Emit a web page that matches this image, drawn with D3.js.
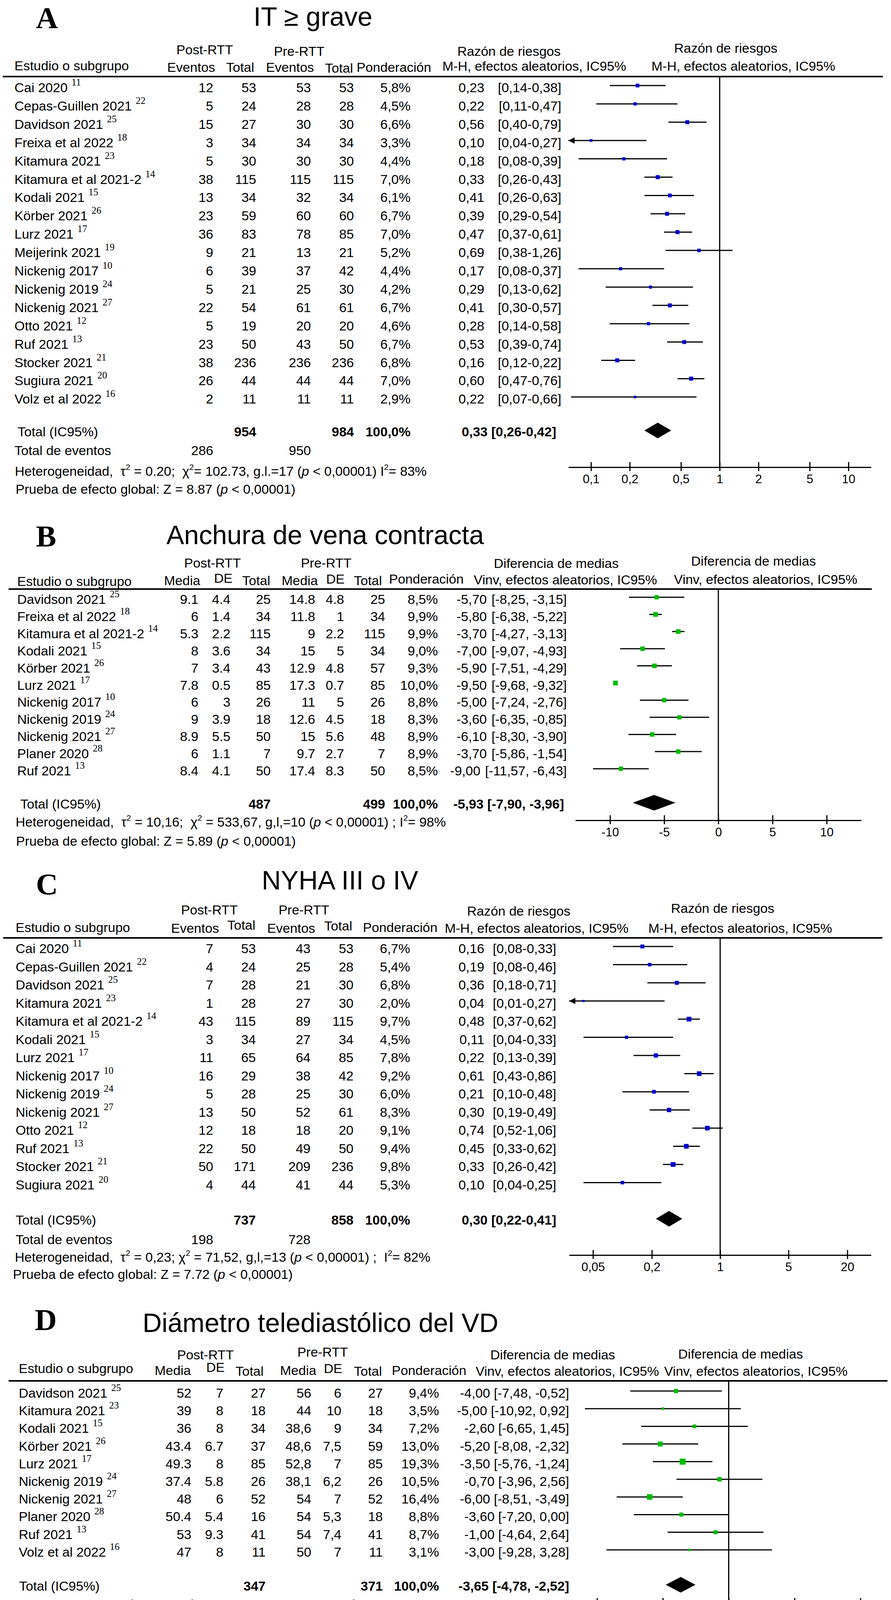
<!DOCTYPE html>
<html>
<head>
<meta charset="utf-8">
<script src="https://cdn.jsdelivr.net/npm/d3@7"></script>
<style>
body{margin:0;background:#fff}
svg{display:block}
svg text{font-family:"Liberation Sans",Arial,sans-serif;fill:#000;white-space:pre}
</style>
</head>
<body>
<svg id="fig" width="2281" height="4183"></svg>
<script>
/*
	Forest plots Post-RTT vs Pre-RTT (A-D)
*/

// A - IT >= grave
var studiesA = ["Cai 2020","Cepas-Guillen 2021","Davidson 2021","Freixa et al 2022","Kitamura 2021","Kitamura et al 2021-2","Kodali 2021","Körber 2021","Lurz 2021","Meijerink 2021","Nickenig 2017","Nickenig 2019","Nickenig 2021","Otto 2021","Ruf 2021","Stocker 2021","Sugiura 2021","Volz et al 2022"];
var refsA = ["11","22","25","18","23","14","15","26","17","19","10","24","27","12","13","21","20","16"];
var postEvA = [12,5,15,3,5,38,13,23,36,9,6,5,22,5,23,38,26,2];
var postTotA = [53,24,27,34,30,115,34,59,83,21,39,21,54,19,50,236,44,11];
var preEvA = [53,28,30,34,30,115,32,60,78,13,37,25,61,20,43,236,44,11];
var preTotA = [53,28,30,34,30,115,34,60,85,21,42,30,61,20,50,236,44,11];
var weightA = [5.8,4.5,6.6,3.3,4.4,7.0,6.1,6.7,7.0,5.2,4.4,4.2,6.7,4.6,6.7,6.8,7.0,2.9];
var rrA = [0.23,0.22,0.56,0.10,0.18,0.33,0.41,0.39,0.47,0.69,0.17,0.29,0.41,0.28,0.53,0.16,0.60,0.22];
var loA = [0.14,0.11,0.40,0.04,0.08,0.26,0.26,0.29,0.37,0.38,0.08,0.13,0.30,0.14,0.39,0.12,0.47,0.07];
var hiA = [0.38,0.47,0.79,0.27,0.39,0.43,0.63,0.54,0.61,1.26,0.37,0.62,0.57,0.58,0.74,0.22,0.76,0.66];
var totalsA = [954,984];
var eventsA = [286,950];
var pooledA = [0.33,0.26,0.42];
var ticksA = [0.1,0.2,0.5,1,2,5,10];
var tickLabelsA = ["0,1","0,2","0,5","1","2","5","10"];

// B - Anchura de vena contracta
var studiesB = ["Davidson 2021","Freixa et al 2022","Kitamura et al 2021-2","Kodali 2021","Körber 2021","Lurz 2021","Nickenig 2017","Nickenig 2019","Nickenig 2021","Planer 2020","Ruf 2021"];
var refsB = ["25","18","14","15","26","17","10","24","27","28","13"];
var postMeanB = [9.1,6,5.3,8,7,7.8,6,9,8.9,6,8.4];
var postSdB = [4.4,1.4,2.2,3.6,3.4,0.5,3,3.9,5.5,1.1,4.1];
var postNB = [25,34,115,34,43,85,26,18,50,7,50];
var preMeanB = [14.8,11.8,9,15,12.9,17.3,11,12.6,15,9.7,17.4];
var preSdB = [4.8,1,2.2,5,4.8,0.7,5,4.5,5.6,2.7,8.3];
var preNB = [25,34,115,34,57,85,26,18,48,7,50];
var weightB = [8.5,9.9,9.9,9.0,9.3,10.0,8.8,8.3,8.9,8.9,8.5];
var mdB = [-5.70,-5.80,-3.70,-7.00,-5.90,-9.50,-5.00,-3.60,-6.10,-3.70,-9.00];
var loB = [-8.25,-6.38,-4.27,-9.07,-7.51,-9.68,-7.24,-6.35,-8.30,-5.86,-11.57];
var hiB = [-3.15,-5.22,-3.13,-4.93,-4.29,-9.32,-2.76,-0.85,-3.90,-1.54,-6.43];
var totalsB = [487,499];
var pooledB = [-5.93,-7.90,-3.96];
var ticksB = [-10,-5,0,5,10];
var tickLabelsB = ["-10","-5","0","5","10"];

// C - NYHA III o IV
var studiesC = ["Cai 2020","Cepas-Guillen 2021","Davidson 2021","Kitamura 2021","Kitamura et al 2021-2","Kodali 2021","Lurz 2021","Nickenig 2017","Nickenig 2019","Nickenig 2021","Otto 2021","Ruf 2021","Stocker 2021","Sugiura 2021"];
var refsC = ["11","22","25","23","14","15","17","10","24","27","12","13","21","20"];
var postEvC = [7,4,7,1,43,3,11,16,5,13,12,22,50,4];
var postTotC = [53,24,28,28,115,34,65,29,28,50,18,50,171,44];
var preEvC = [43,25,21,27,89,27,64,38,25,52,18,49,209,41];
var preTotC = [53,28,30,30,115,34,85,42,30,61,20,50,236,44];
var weightC = [6.7,5.4,6.8,2.0,9.7,4.5,7.8,9.2,6.0,8.3,9.1,9.4,9.8,5.3];
var rrC = [0.16,0.19,0.36,0.04,0.48,0.11,0.22,0.61,0.21,0.30,0.74,0.45,0.33,0.10];
var loC = [0.08,0.08,0.18,0.01,0.37,0.04,0.13,0.43,0.10,0.19,0.52,0.33,0.26,0.04];
var hiC = [0.33,0.46,0.71,0.27,0.62,0.33,0.39,0.86,0.48,0.49,1.06,0.62,0.42,0.25];
var totalsC = [737,858];
var eventsC = [198,728];
var pooledC = [0.30,0.22,0.41];
var ticksC = [0.05,0.2,1,5,20];
var tickLabelsC = ["0,05","0,2","1","5","20"];

// D - Diametro telediastolico del VD
var studiesD = ["Davidson 2021","Kitamura 2021","Kodali 2021","Körber 2021","Lurz 2021","Nickenig 2019","Nickenig 2021","Planer 2020","Ruf 2021","Volz et al 2022"];
var refsD = ["25","23","15","26","17","24","27","28","13","16"];
var postMeanD = [52,39,36,43.4,49.3,37.4,48,50.4,53,47];
var postSdD = [7,8,8,6.7,8,5.8,6,5.4,9.3,8];
var postND = [27,18,34,37,85,26,52,16,41,11];
var preMeanD = [56,44,38.6,48.6,52.8,38.1,54,54,54,50];
var preSdD = [6,10,9,7.5,7,6.2,7,5.3,7.4,7];
var preND = [27,18,34,59,85,26,52,18,41,11];
var weightD = [9.4,3.5,7.2,13.0,19.3,10.5,16.4,8.8,8.7,3.1];
var mdD = [-4.00,-5.00,-2.60,-5.20,-3.50,-0.70,-6.00,-3.60,-1.00,-3.00];
var loD = [-7.48,-10.92,-6.65,-8.08,-5.76,-3.96,-8.51,-7.20,-4.64,-9.28];
var hiD = [-0.52,0.92,1.45,-2.32,-1.24,2.56,-3.49,0.00,2.64,3.28];
var totalsD = [347,371];
var pooledD = [-3.65,-4.78,-2.52];
var ticksD = [-10,-5,0,5,10];
var tickLabelsD = ["-10","-5","0","5","10"];

var svg = d3.select('#fig');
var FS = 34;

function fmt(v, d){ return v.toFixed(d).replace('.', ','); }
function num(v, sep){ return String(v).replace('.', sep || '.'); }

// text with ^2 superscripts and _p_ italics
function richText(g, x, y, str, size){
	var t = g.append('text').attr('x', x).attr('y', y).attr('font-size', size);
	var back = 0;
	str.split(/(\^2|_p_)/).forEach(function(s){
		if (!s) return;
		var ts = t.append('tspan');
		if (s == '^2') {
			ts.attr('font-size', size*0.62).attr('dy', -size*0.45).text('2');
			back = size*0.45;
		} else {
			if (back) { ts.attr('dy', back); back = 0; }
			if (s == '_p_') ts.attr('font-style', 'italic').text('p');
			else ts.text(s);
		}
	});
	return t;
}

function drawPanel(p){
	var g = svg.append('g');
	var n = p.names.length;

	g.append('text').attr('x', p.letter[1]).attr('y', p.letter[2])
		.attr('font-size', 78).attr('font-weight', 'bold')
		.style('font-family', '"Liberation Serif","Times New Roman",serif')
		.text(p.letter[0]);
	g.append('text').attr('x', p.title[1]).attr('y', p.title[2])
		.attr('font-size', 68).text(p.title[0]);

	p.heads.forEach(function(h){
		g.append('text').attr('x', h[1]).attr('y', h[2]).attr('font-size', FS)
			.attr('text-anchor', h[3] || 'start').text(h[0]);
	});

	g.append('line').attr('x1', p.line[0]).attr('x2', p.line[1])
		.attr('y1', p.lineY).attr('y2', p.lineY)
		.attr('stroke', '#000').attr('stroke-width', 4);

	var y = d3.scaleLinear().domain([0, n-1]).range([p.row0, p.row0 + p.rowStep*(n-1)]);
	var x = p.log ? d3.scaleLog() : d3.scaleLinear();
	x.domain(p.domain).range(p.range);

	// study rows
	var rows = g.selectAll('g.row').data(d3.range(n)).join('g').attr('class', 'row');
	rows.append('text').attr('x', p.nameX).attr('y', function(i){ return y(i)+17; })
		.attr('font-size', FS)
		.each(function(i){
			var t = d3.select(this);
			t.append('tspan').text(p.names[i]);
			t.append('tspan').attr('dx', 10).attr('dy', -17).attr('font-size', 25)
				.style('font-family', '"Liberation Serif","Times New Roman",serif')
				.text(p.refs[i]);
		});
	p.cols.forEach(function(c){
		rows.append('text').attr('x', c.x).attr('y', function(i){ return y(i)+17; })
			.attr('font-size', FS).attr('text-anchor', 'end')
			.text(function(i){ return num(c.vals[i], c.sep); });
	});
	rows.append('text').attr('x', p.weightX).attr('y', function(i){ return y(i)+17; })
		.attr('font-size', FS).attr('text-anchor', 'end')
		.text(function(i){ return fmt(p.weights[i], 1) + '%'; });

	function bracket(lo, hi){
		return p.log ? '[' + fmt(lo,2) + '-' + fmt(hi,2) + ']' : '[' + fmt(lo,2) + ', ' + fmt(hi,2) + ']';
	}
	if (p.estX) {
		rows.each(function(i){
			var r = d3.select(this);
			var b = r.append('text').attr('x', p.ciX).attr('y', y(i)+17)
				.attr('font-size', FS).attr('text-anchor', 'end')
				.text(bracket(p.lo[i], p.hi[i]));
			var start = p.ciX - b.node().getComputedTextLength();
			r.append('text').attr('x', Math.min(p.estX, start - 12)).attr('y', y(i)+17)
				.attr('font-size', FS).attr('text-anchor', 'end')
				.text(fmt(p.est[i], 2));
		});
	} else {
		rows.append('text').attr('x', p.ciX).attr('y', function(i){ return y(i)+17; })
			.attr('font-size', FS).attr('text-anchor', 'end')
			.text(function(i){ return fmt(p.est[i], 2) + ' ' + bracket(p.lo[i], p.hi[i]); });
	}

	// null line
	g.append('line').attr('x1', x(p.nullV)).attr('x2', x(p.nullV))
		.attr('y1', p.lineY).attr('y2', p.axisY)
		.attr('stroke', '#000').attr('stroke-width', 3);

	// CI lines, arrows, squares
	var d0 = p.domain[0], d1 = p.domain[1];
	rows.append('line')
		.attr('x1', function(i){ return x(Math.max(p.lo[i], d0)); })
		.attr('x2', function(i){ return x(Math.min(p.hi[i], d1)); })
		.attr('y1', function(i){ return y(i); }).attr('y2', function(i){ return y(i); })
		.attr('stroke', '#000').attr('stroke-width', 3);
	rows.filter(function(i){ return p.lo[i] < d0; }).append('path')
		.attr('d', function(i){ var x0 = x(d0), yy = y(i); return 'M'+x0+','+yy+'L'+(x0+16)+','+(yy-8)+'L'+(x0+16)+','+(yy+8)+'Z'; })
		.attr('fill', '#000');
	rows.append('rect')
		.attr('x', function(i){ return x(p.est[i]) - p.sq*Math.sqrt(p.weights[i])/2; })
		.attr('y', function(i){ return y(i) - p.sq*Math.sqrt(p.weights[i])/2; })
		.attr('width', function(i){ return p.sq*Math.sqrt(p.weights[i]); })
		.attr('height', function(i){ return p.sq*Math.sqrt(p.weights[i]); })
		.attr('fill', p.color);

	// total row
	var ty = p.totalY;
	g.append('text').attr('x', p.totalLabelX).attr('y', ty+15).attr('font-size', FS).text('Total (IC95%)');
	[[p.totals[0], p.cols[p.totCols[0]].x], [p.totals[1], p.cols[p.totCols[1]].x]].forEach(function(t){
		g.append('text').attr('x', t[1]).attr('y', ty+15).attr('font-size', FS)
			.attr('font-weight', 'bold').attr('text-anchor', 'end').text(t[0]);
	});
	g.append('text').attr('x', p.weightX).attr('y', ty+15).attr('font-size', FS)
		.attr('font-weight', 'bold').attr('text-anchor', 'end').text('100,0%');
	g.append('text').attr('x', p.totalCiX).attr('y', ty+15).attr('font-size', FS)
		.attr('font-weight', 'bold').attr('text-anchor', 'end')
		.text(fmt(p.pooled[0], 2) + ' ' + bracket(p.pooled[1], p.pooled[2]));
	g.append('path')
		.attr('d', 'M' + x(p.pooled[1]) + ',' + ty + 'L' + x(p.pooled[0]) + ',' + (ty-20) +
			'L' + x(p.pooled[2]) + ',' + ty + 'L' + x(p.pooled[0]) + ',' + (ty+20) + 'Z')
		.attr('fill', '#000');

	if (p.events) {
		g.append('text').attr('x', p.nameX).attr('y', p.eventsY).attr('font-size', FS).text('Total de eventos');
		g.append('text').attr('x', p.cols[0].x).attr('y', p.eventsY).attr('font-size', FS)
			.attr('text-anchor', 'end').text(p.events[0]);
		g.append('text').attr('x', p.cols[2].x).attr('y', p.eventsY).attr('font-size', FS)
			.attr('text-anchor', 'end').text(p.events[1]);
	}
	richText(g, p.het[1], p.het[2], p.het[0], 34);
	richText(g, p.test[1], p.test[2], p.test[0], 34);

	// axis
	var axis = d3.axisBottom(x).tickValues(p.ticks)
		.tickFormat(function(d, i){ return p.tickLabels[i]; }).tickSizeOuter(0);
	var ax = g.append('g').attr('transform', 'translate(0,' + p.axisY + ')').call(axis);
	ax.select('.domain').attr('stroke', '#000').attr('stroke-width', 3);
	ax.selectAll('.tick line').attr('y1', -13).attr('y2', 10).attr('stroke', '#000').attr('stroke-width', 3);
	ax.selectAll('.tick text').attr('y', 41).attr('dy', null).attr('font-size', 31)
		.style('font-family', '"Liberation Sans",Arial,sans-serif').attr('fill', '#000');
}

function init(){
	drawPanel({
		letter: ['A', 92, 72], title: ['IT ≥ grave', 649, 66],
		heads: [['Post-RTT', 524, 139, 'middle'], ['Pre-RTT', 766, 143, 'middle'],
			['Estudio o subgrupo', 37, 180], ['Eventos', 428, 184], ['Total', 579, 184],
			['Eventos', 681, 184], ['Total', 832, 186], ['Ponderación', 913, 184],
			['Razón de riesgos', 1303, 143, 'middle'], ['M-H, efectos aleatorios, IC95%', 1603, 181, 'end'],
			['Razón de riesgos', 1858, 135, 'middle'], ['M-H, efectos aleatorios, IC95%', 1903, 181, 'middle']],
		line: [7, 2260], lineY: 196,
		names: studiesA, refs: refsA, nameX: 37, row0: 219, rowStep: 46.9,
		cols: [{vals: postEvA, x: 546}, {vals: postTotA, x: 656}, {vals: preEvA, x: 796}, {vals: preTotA, x: 906}],
		totCols: [1, 3], weights: weightA, weightX: 1051,
		est: rrA, lo: loA, hi: hiA, estX: 1240, ciX: 1437,
		log: true, domain: [0.0667, 15], range: [1455, 2230], nullV: 1,
		sq: 3.9, color: '#0000cc',
		totalY: 1102, totalLabelX: 45, totals: totalsA, pooled: pooledA, totalCiX: 1424,
		events: eventsA, eventsY: 1165,
		het: ['Heterogeneidad,  τ^2 = 0.20;  χ^2= 102.73, g.l.=17 (_p_ < 0,00001) I^2= 83%', 38, 1218],
		test: ['Prueba de efecto global: Z = 8.87 (_p_ < 0,00001)', 40, 1264],
		axisY: 1196, ticks: ticksA, tickLabels: tickLabelsA
	});

	drawPanel({
		letter: ['B', 92, 1399], title: ['Anchura de vena contracta', 426, 1393],
		heads: [['Post-RTT', 544, 1453, 'middle'], ['Pre-RTT', 835, 1453, 'middle'],
			['Estudio o subgrupo', 44, 1500], ['Media', 420, 1498], ['DE', 548, 1492], ['Total', 620, 1498],
			['Media', 721, 1498], ['DE', 835, 1494], ['Total', 906, 1498], ['Ponderación', 996, 1494],
			['Diferencia de medias', 1424, 1454, 'middle'], ['Vinv, efectos aleatorios, IC95%', 1682, 1496, 'end'],
			['Diferencia de medias', 1929, 1448, 'middle'], ['Vinv, efectos aleatorios, IC95%', 1960, 1495, 'middle']],
		line: [22, 2232], lineY: 1508,
		names: studiesB, refs: refsB, nameX: 44, row0: 1529, rowStep: 43.9,
		cols: [{vals: postMeanB, x: 508}, {vals: postSdB, x: 590}, {vals: postNB, x: 693},
			{vals: preMeanB, x: 807}, {vals: preSdB, x: 881}, {vals: preNB, x: 986}],
		totCols: [2, 5], weights: weightB, weightX: 1121,
		est: mdB, lo: loB, hi: hiB, estX: 1249, ciX: 1451,
		log: false, domain: [-13.2, 13.2], range: [1473, 2205], nullV: 0,
		sq: 3.8, color: '#00bb00',
		totalY: 2055, totalLabelX: 52, totals: totalsB, pooled: pooledB, totalCiX: 1444,
		het: ['Heterogeneidad,  τ^2 = 10,16;  χ^2 = 533,67, g,l,=10 (_p_ < 0,00001) ; I^2= 98%', 40, 2116],
		test: ['Prueba de efecto global: Z = 5.89 (_p_ < 0,00001)', 41, 2165],
		axisY: 2100, ticks: ticksB, tickLabels: tickLabelsB
	});

	drawPanel({
		letter: ['C', 92, 2290], title: ['NYHA III o IV', 670, 2277],
		heads: [['Post-RTT', 536, 2341, 'middle'], ['Pre-RTT', 778, 2341, 'middle'],
			['Estudio o subgrupo', 40, 2386], ['Eventos', 438, 2388], ['Total', 582, 2380],
			['Eventos', 684, 2388], ['Total', 830, 2382], ['Ponderación', 929, 2386],
			['Razón de riesgos', 1328, 2344, 'middle'], ['M-H, efectos aleatorios, IC95%', 1609, 2388, 'end'],
			['Razón de riesgos', 1850, 2337, 'middle'], ['M-H, efectos aleatorios, IC95%', 1895, 2388, 'middle']],
		line: [8, 2259], lineY: 2401,
		names: studiesC, refs: refsC, nameX: 40, row0: 2423, rowStep: 46.5,
		cols: [{vals: postEvC, x: 546}, {vals: postTotC, x: 655}, {vals: preEvC, x: 795}, {vals: preTotC, x: 905}],
		totCols: [1, 3], weights: weightC, weightX: 1050,
		est: rrC, lo: loC, hi: hiC, estX: 1240, ciX: 1424,
		log: true, domain: [0.0285, 35], range: [1457, 2230], nullV: 1,
		sq: 3.9, color: '#0000cc',
		totalY: 3120, totalLabelX: 40, totals: totalsC, pooled: pooledC, totalCiX: 1424,
		events: eventsC, eventsY: 3185,
		het: ['Heterogeneidad,  τ^2 = 0,23; χ^2 = 71,52, g,l,=13 (_p_ < 0,00001) ;  I^2= 82%', 38, 3230],
		test: ['Prueba de efecto global: Z = 7.72 (_p_ < 0,00001)', 33, 3274],
		axisY: 3213, ticks: ticksC, tickLabels: tickLabelsC
	});

	drawPanel({
		letter: ['D', 89, 3405], title: ['Diámetro telediastólico del VD', 365, 3410],
		heads: [['Post-RTT', 526, 3480, 'middle'], ['Pre-RTT', 826, 3473, 'middle'],
			['Estudio o subgrupo', 48, 3515], ['Media', 396, 3520], ['DE', 528, 3512], ['Total', 603, 3522],
			['Media', 717, 3520], ['DE', 829, 3515], ['Total', 906, 3522], ['Ponderación', 1003, 3520],
			['Diferencia de medias', 1415, 3480, 'middle'], ['Vinv, efectos aleatorios, IC95%', 1687, 3522, 'end'],
			['Diferencia de medias', 1896, 3478, 'middle'], ['Vinv, efectos aleatorios, IC95%', 1935, 3522, 'middle']],
		line: [22, 2272], lineY: 3535,
		names: studiesD, refs: refsD, nameX: 48, row0: 3561, rowStep: 45.2,
		cols: [{vals: postMeanD, x: 490}, {vals: postSdD, x: 572}, {vals: postND, x: 680},
			{vals: preMeanD, x: 797, sep: ','}, {vals: preSdD, x: 874, sep: ','}, {vals: preND, x: 980}],
		totCols: [2, 5], weights: weightD, weightX: 1124,
		est: mdD, lo: loD, hi: hiD, ciX: 1457,
		log: false, domain: [-11.2, 11.2], range: [1488, 2243], nullV: 0,
		sq: 3.5, color: '#00bb00',
		totalY: 4057, totalLabelX: 49, totals: totalsD, pooled: pooledD, totalCiX: 1457,
		het: ['Heterogeneidad,  τ^2 = 0,40; χ^2 = 10,22, g,l,=9 (_p_ < ,33);  I^2= 12%', 49, 4124],
		test: ['Prueba de efecto global: Z = 6,32 (_p_ < 0,00001)', 54, 4162],
		axisY: 4104, ticks: ticksD, tickLabels: tickLabelsD
	});
}

init();
</script>
</body>
</html>
